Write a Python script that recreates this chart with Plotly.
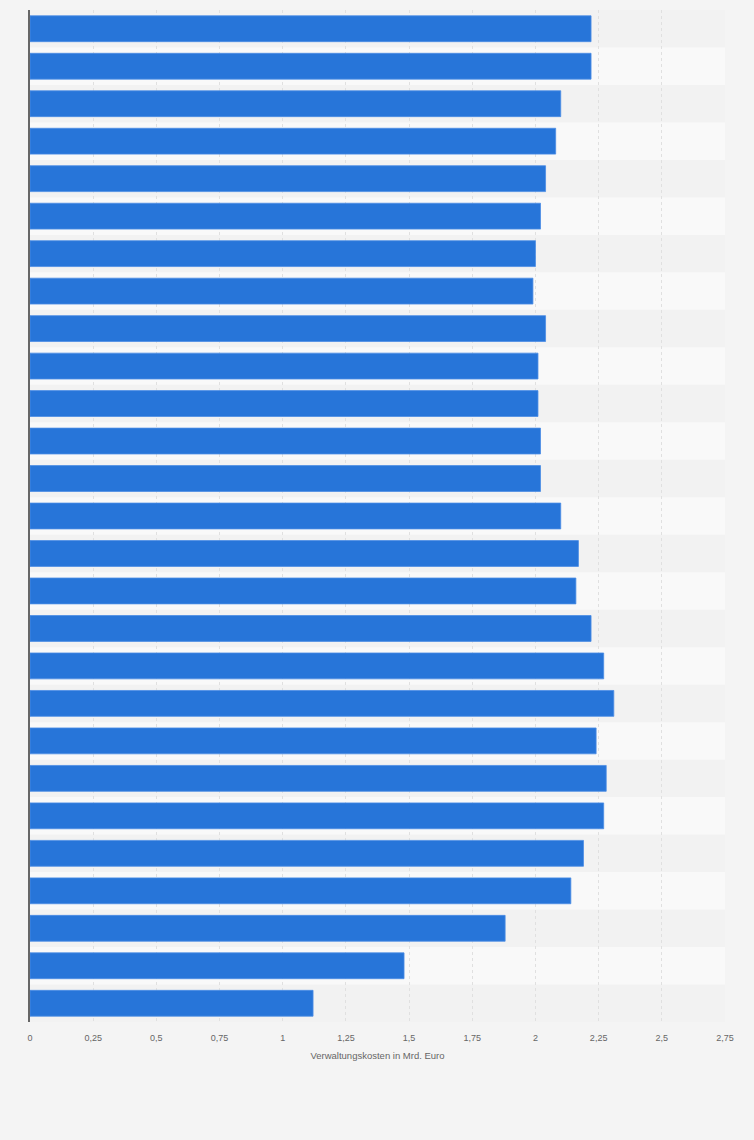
import plotly.graph_objects as go

# categories (labels are hidden in the original chart, top bar = first entry)
years = [str(y) for y in range(2022, 1995, -1)]
kosten = [2.22, 2.22, 2.1, 2.08, 2.04, 2.02, 2.0, 1.99, 2.04, 2.01, 2.01, 2.02, 2.02,
          2.1, 2.17, 2.16, 2.22, 2.27, 2.31, 2.24, 2.28, 2.27, 2.19, 2.14, 1.88, 1.48, 1.12]
x_ticks = [0, 0.25, 0.5, 0.75, 1, 1.25, 1.5, 1.75, 2, 2.25, 2.5, 2.75]

fig = go.Figure()
fig.add_trace(go.Bar(
    x=kosten,
    y=years,
    orientation="h",
    marker=dict(color="#2775d9", line=dict(color="#4b8de4", width=0.8)),
    hoverinfo="x",
))

# alternating row stripes
for i in range(len(years)):
    if i % 2 == 1:
        fig.add_shape(type="rect", xref="x domain", yref="y",
                      x0=0, x1=1, y0=i - 0.5, y1=i + 0.5,
                      fillcolor="#f9f9f9", line=dict(width=0), layer="below")

fig.update_layout(
    width=754, height=1140,
    margin=dict(l=30, r=29, t=10, b=118),
    paper_bgcolor="#f4f4f4",
    plot_bgcolor="#f2f2f2",
    bargap=0.31,
    separators=",.",
    showlegend=False,
    font=dict(family="Liberation Sans, Arial, sans-serif", color="#666666", size=9),
)
fig.update_xaxes(
    range=[0, 2.75], tickvals=x_ticks, showgrid=True, gridcolor="#e0e0e0",
    griddash="dot", gridwidth=1, zeroline=False, showline=False, ticks="",
    ticklabelstandoff=9,
    tickfont=dict(size=9, color="#666666"),
    title=dict(text="Verwaltungskosten in Mrd. Euro", font=dict(size=9.5, color="#666666"), standoff=10),
)
fig.update_yaxes(
    autorange="reversed", showticklabels=False, showgrid=False, ticks="",
    showline=True, linecolor="#666666", linewidth=1.5,
)

# page without the default white body margin, like the reference screenshot
fig.write_html("out.html", config={"displayModeBar": False},
               post_script="document.body.style.margin='0';document.body.style.background='#f4f4f4';")
